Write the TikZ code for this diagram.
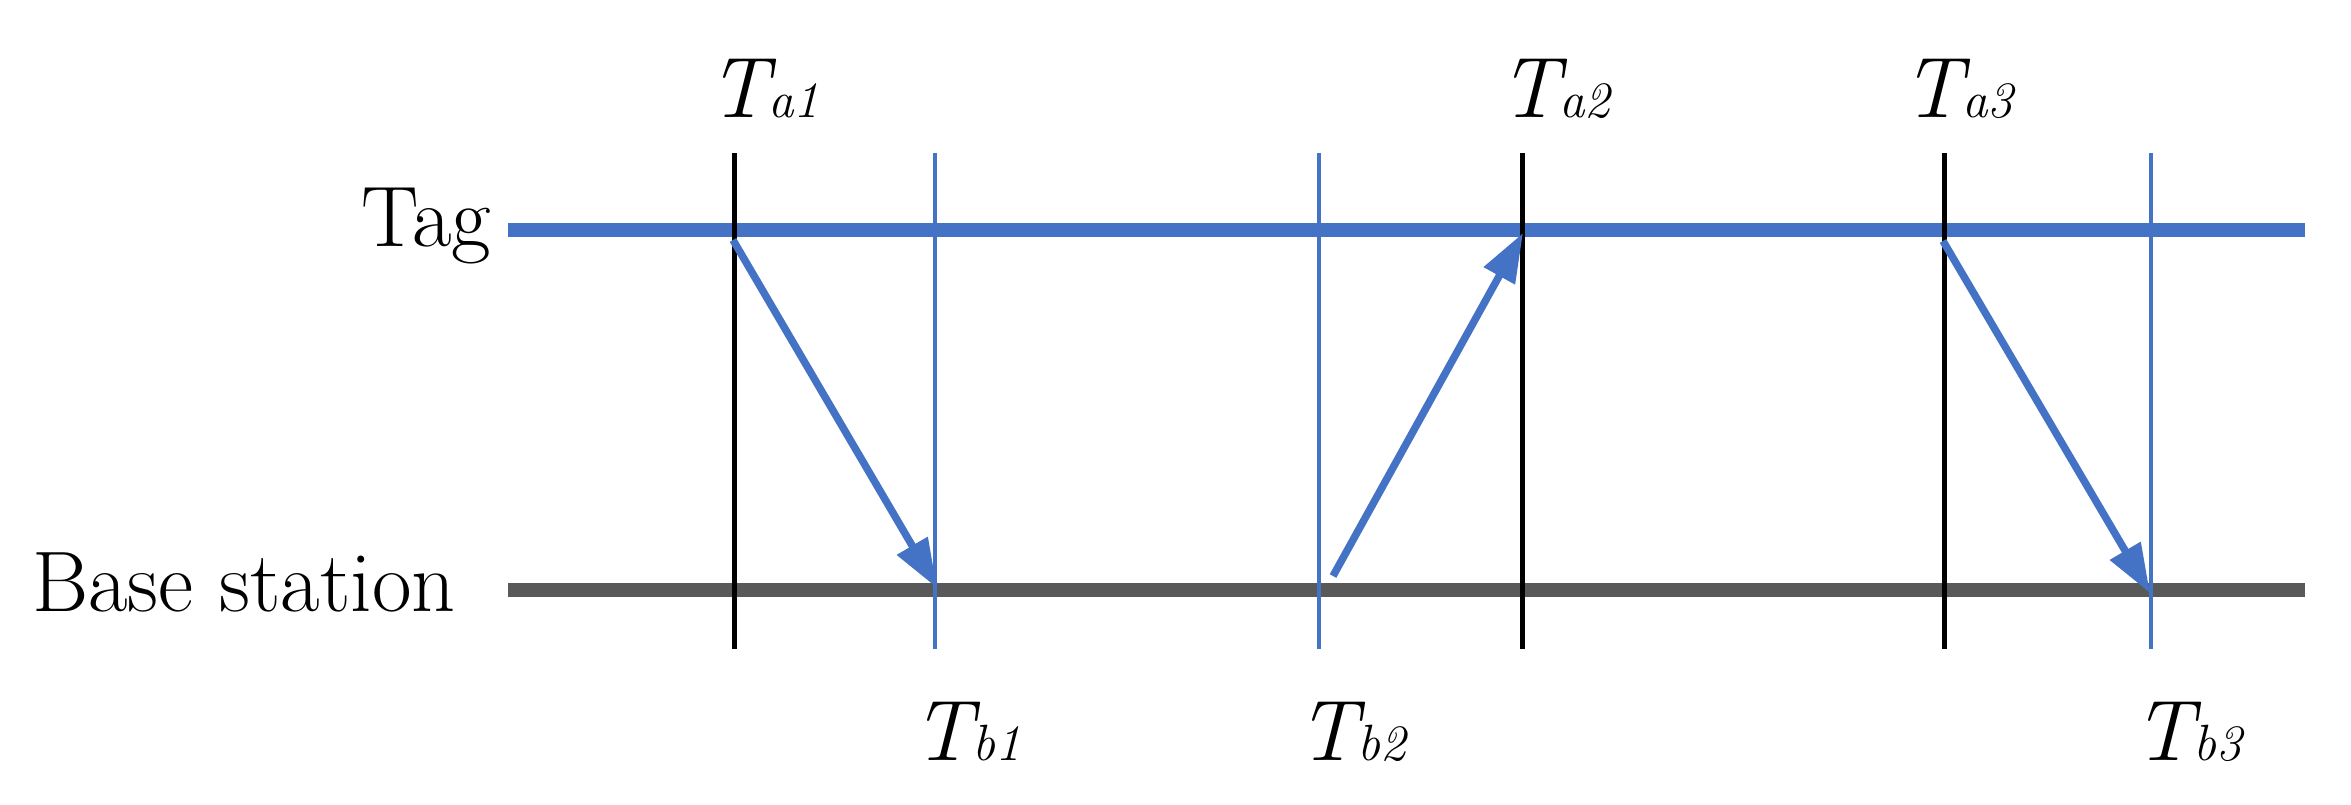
\documentclass[tikz,border=0pt]{standalone}
\usetikzlibrary{arrows.meta}
\definecolor{tagblue}{HTML}{4472C4}
\definecolor{basegray}{HTML}{595959}
\begin{document}
\begin{tikzpicture}[x=1pt,y=-1pt,
  rowlabel/.style={inner sep=0pt,anchor=base west,font=\fontsize{86}{86}\selectfont},
  timelabel/.style={inner sep=0pt,anchor=base west},
  tagline/.style={draw=tagblue,line width=13.5pt},
  baseline/.style={draw=basegray,line width=13.5pt},
  tmark/.style={draw=black,line width=5pt},
  bmark/.style={draw=tagblue,line width=4.5pt},
  msg/.style={draw=tagblue,line width=7.5pt,-{Triangle[length=49pt,width=34pt]}}
]
\useasboundingbox (0,0) rectangle (2351,804);
\newcommand{\tlab}[1]{{\fontsize{86}{86}\selectfont\itshape T}{\fontsize{51}{51}\selectfont\itshape #1}}

% row labels
\node[rowlabel] (tag) at (361,246) {Tag};
\node[rowlabel] (bs) at (32,611) {Base station};

% timelines
\coordinate (tagL) at (508,230);
\coordinate (tagR) at (2305,230);
\coordinate (bsL) at (508,590);
\coordinate (bsR) at (2305,590);
\draw[tagline] (tagL) -- (tagR);
\draw[baseline] (bsL) -- (bsR);

% vertical markers
\foreach \n/\x/\s in {a1/734/tmark, b1/935/bmark, b2/1319/bmark, a2/1522/tmark, a3/1944/tmark, b3/2151/bmark}{
  \coordinate (\n top) at (\x,153);
  \coordinate (\n bot) at (\x,649);
  \draw[\s] (\n top) -- (\n bot);
}

% time labels
\node[timelabel] (la1) at (708,117) {\tlab{a1}};
\node[timelabel] (la2) at (1499,117) {\tlab{a2}};
\node[timelabel] (la3) at (1902,117) {\tlab{a3}};
\node[timelabel] (lb1) at (912,760) {\tlab{b1}};
\node[timelabel] (lb2) at (1297,760) {\tlab{b2}};
\node[timelabel] (lb3) at (2133,760) {\tlab{b3}};

% messages
\coordinate (m1s) at (733,240);
\coordinate (m1e) at (937,588);
\coordinate (m2s) at (1333,576);
\coordinate (m2e) at (1523,233);
\coordinate (m3s) at (1943,241);
\coordinate (m3e) at (2150,593);
\draw[msg] (m1s) -- (m1e);
\draw[msg] (m2s) -- (m2e);
\draw[msg] (m3s) -- (m3e);
\end{tikzpicture}
\end{document}
